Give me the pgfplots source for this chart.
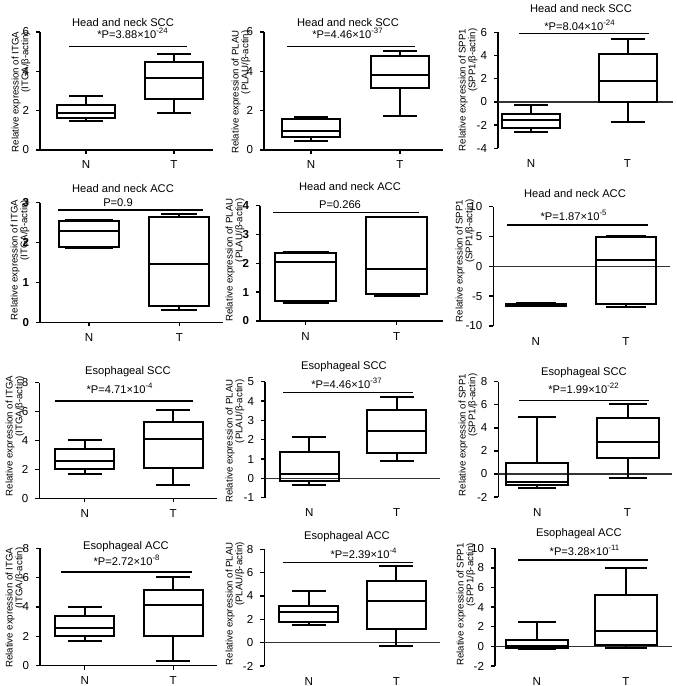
\documentclass[border=0pt]{standalone}
\usepackage{fontspec}
\setmainfont{Liberation Sans}
\usepackage{pgfplots}
\pgfplotsset{compat=1.18}
\usepgfplotslibrary{statistics}

\newcommand\geom[4]{%
 \pgfmathsetmacro\W{(#2-#1)*0.5}%
 \pgfmathsetmacro\H{(#4-#3)*0.5}%
 \pgfmathsetmacro\AX{#1*0.5}%
 \pgfmathsetmacro\AY{-#4*0.5}}

\pgfplotsset{
 gp/.style={scale only axis, clip=false, width=\W bp, height=\H bp,
  at={(\AX bp,\AY bp)}, anchor=south west,
  axis y line=left, axis x line=bottom, axis line style={-, line width=0.7bp},
  tick align=outside, major tick length=2bp, tick style={black, line width=0.7bp},
  xticklabels={N,T}, ticklabel style={font=\fontsize{5.8}{6}\selectfont},
  /pgf/number format/assume math mode=true,
  boxplot/draw direction=y},
 neg/.style={x axis line style={draw=none}, xtick style={draw=none}},
 bold/.style={yticklabel style={font=\bfseries\fontsize{5.8}{6}\selectfont}},
 bx/.style={black, line width=1bp, solid, fill=none, boxplot/draw direction=y},
 pl/.style={black, line width=0.7bp},
 zl/.style={black!80, line width=0.6bp},
}
\newcommand\tfont{\fontsize{5.6}{6.5}\selectfont}
\newcommand\lfont{\fontsize{4.85}{4.9}\selectfont}

\begin{document}
\begin{tikzpicture}[x=0.5bp,y=-0.5bp]
\useasboundingbox (0,0) rectangle (677,686);

% ---------- Row 1 ----------
\geom{40}{213}{32}{150}
\begin{axis}[gp, xmin=40, xmax=213, ymin=0, ymax=6, ytick={0,2,4,6}, xtick={86,174}]
\addplot[bx, boxplot prepared={draw position=86, lower whisker=1.5, lower quartile=1.62, median=1.9, upper quartile=2.28, upper whisker=2.77, box extend=58, whisker extend=34}] coordinates {};
\addplot[bx, boxplot prepared={draw position=174, lower whisker=1.87, lower quartile=2.6, median=3.64, upper quartile=4.47, upper whisker=4.88, box extend=58, whisker extend=34}] coordinates {};
\addplot[pl] coordinates {(69,5.27) (187,5.27)};
\end{axis}

\geom{264}{443}{32}{150}
\begin{axis}[gp, xmin=264, xmax=443, ymin=0, ymax=6, ytick={0,2,4,6}, xtick={311,400}]
\addplot[bx, boxplot prepared={draw position=311, lower whisker=0.46, lower quartile=0.68, median=0.97, upper quartile=1.58, upper whisker=1.70, box extend=58, whisker extend=34}] coordinates {};
\addplot[bx, boxplot prepared={draw position=400, lower whisker=1.75, lower quartile=3.15, median=3.81, upper quartile=4.76, upper whisker=5.03, box extend=58, whisker extend=34}] coordinates {};
\addplot[pl] coordinates {(287,5.27) (415,5.27)};
\end{axis}

\geom{498}{673}{32.3}{148.3}
\begin{axis}[gp, neg, xmin=498, xmax=673, ymin=-4, ymax=6, ytick={-4,-2,0,2,4,6}, xtick={531,627.5}]
\addplot[zl] coordinates {(498,0) (673,0)};
\addplot[bx, boxplot prepared={draw position=531, lower whisker=-2.59, lower quartile=-2.21, median=-1.52, upper quartile=-1.03, upper whisker=-0.26, box extend=58, whisker extend=34}] coordinates {};
\addplot[bx, boxplot prepared={draw position=627.5, lower whisker=-1.7, lower quartile=0.03, median=1.78, upper quartile=4.17, upper whisker=5.46, box extend=58, whisker extend=34}] coordinates {};
\addplot[pl] coordinates {(519,5.89) (649,5.89)};
\end{axis}

% ---------- Row 2 ----------
\geom{40}{223}{202.7}{322.3}
\begin{axis}[gp, bold, xmin=40, xmax=223, ymin=0, ymax=3, ytick={0,1,2,3}, xtick={89,179.3}]
\addplot[bx, boxplot prepared={draw position=89, lower whisker=1.87, lower quartile=1.90, median=2.28, upper quartile=2.55, upper whisker=2.57, box extend=60, whisker extend=48}] coordinates {};
\addplot[bx, boxplot prepared={draw position=179.3, lower whisker=0.30, lower quartile=0.41, median=1.46, upper quartile=2.65, upper whisker=2.72, box extend=60, whisker extend=36}] coordinates {};
\addplot[pl] coordinates {(58,2.82) (203,2.82)};
\end{axis}

\geom{260}{443}{205.7}{321}
\begin{axis}[gp, bold, xmin=260, xmax=443, ymin=0, ymax=4, ytick={0,1,2,3,4}, xtick={305.5,396.7}]
\addplot[bx, boxplot prepared={draw position=305.5, lower whisker=0.61, lower quartile=0.69, median=2.05, upper quartile=2.37, upper whisker=2.40, box extend=61, whisker extend=46}] coordinates {};
\addplot[bx, boxplot prepared={draw position=396.7, lower whisker=0.88, lower quartile=0.95, median=1.79, upper quartile=3.60, upper whisker=3.62, box extend=61, whisker extend=46}] coordinates {};
\addplot[pl] coordinates {(273,3.76) (419,3.76)};
\end{axis}

\geom{493.3}{670}{206.7}{326}
\begin{axis}[gp, neg, xmin=493.3, xmax=670, ymin=-10, ymax=10, ytick={-10,-5,0,5,10}, xtick={535.8,625.8}]
\addplot[zl] coordinates {(493.3,0) (670,0)};
\addplot[bx, boxplot prepared={draw position=535.8, lower whisker=-6.7, lower quartile=-6.6, median=-6.45, upper quartile=-6.3, upper whisker=-6.2, box extend=60, whisker extend=40}] coordinates {};
\addplot[bx, boxplot prepared={draw position=625.8, lower whisker=-6.76, lower quartile=-6.3, median=1.12, upper quartile=4.97, upper whisker=5.08, box extend=60, whisker extend=40}] coordinates {};
\addplot[pl] coordinates {(507,6.93) (648,6.93)};
\end{axis}

% ---------- Row 3 ----------
\geom{39.3}{216.7}{382.7}{498.3}
\begin{axis}[gp, xmin=39.3, xmax=216.7, ymin=0, ymax=8, ytick={0,2,4,6,8}, xtick={84.7,173.2}]
\addplot[bx, boxplot prepared={draw position=84.7, lower whisker=1.68, lower quartile=2.03, median=2.6, upper quartile=3.39, upper whisker=4.03, box extend=59, whisker extend=34}] coordinates {};
\addplot[bx, boxplot prepared={draw position=173.2, lower whisker=0.95, lower quartile=2.07, median=4.1, upper quartile=5.25, upper whisker=6.1, box extend=59, whisker extend=34}] coordinates {};
\addplot[pl] coordinates {(55,6.73) (193,6.73)};
\end{axis}

\geom{265}{440}{381.7}{497.7}
\begin{axis}[gp, neg, xmin=265, xmax=440, ymin=-1, ymax=5, ytick={-1,0,1,2,3,4,5}, xtick={309.2,396.7}]
\addplot[zl] coordinates {(265,0) (440,0)};
\addplot[bx, boxplot prepared={draw position=309.2, lower whisker=-0.36, lower quartile=-0.14, median=0.24, upper quartile=1.36, upper whisker=2.12, box extend=59, whisker extend=34}] coordinates {};
\addplot[bx, boxplot prepared={draw position=396.7, lower whisker=0.9, lower quartile=1.31, median=2.47, upper quartile=3.55, upper whisker=4.19, box extend=59, whisker extend=34}] coordinates {};
\addplot[pl] coordinates {(283,4.45) (413,4.45)};
\end{axis}

\geom{498.3}{671.7}{381.7}{497}
\begin{axis}[gp, neg, xmin=498.3, xmax=671.7, ymin=-2, ymax=8, ytick={-2,0,2,4,6,8}, xtick={537.2,627.5}]
\addplot[zl] coordinates {(498.3,0) (671.7,0)};
\addplot[bx, boxplot prepared={draw position=537.2, lower whisker=-1.18, lower quartile=-0.92, median=-0.66, upper quartile=0.92, upper whisker=4.97, box extend=62, whisker extend=38}] coordinates {};
\addplot[bx, boxplot prepared={draw position=627.5, lower whisker=-0.32, lower quartile=1.39, median=2.8, upper quartile=4.88, upper whisker=6.04, box extend=62, whisker extend=38}] coordinates {};
\addplot[pl] coordinates {(519,6.36) (649,6.36)};
\end{axis}

% ---------- Row 4 ----------
\geom{40}{216.7}{548.3}{665.7}
\begin{axis}[gp, xmin=40, xmax=216.7, ymin=0, ymax=8, ytick={0,2,4,6,8}, xtick={84.7,173.2}]
\addplot[bx, boxplot prepared={draw position=84.7, lower whisker=1.68, lower quartile=2.02, median=2.59, upper quartile=3.39, upper whisker=4.02, box extend=59, whisker extend=34}] coordinates {};
\addplot[bx, boxplot prepared={draw position=173.2, lower whisker=0.34, lower quartile=2.02, median=4.14, upper quartile=5.18, upper whisker=6.07, box extend=59, whisker extend=34}] coordinates {};
\addplot[pl] coordinates {(61,6.39) (192,6.39)};
\end{axis}

\geom{264.3}{440}{549.3}{666}
\begin{axis}[gp, neg, xmin=264.3, xmax=440, ymin=-2, ymax=8, ytick={-2,0,2,4,6,8}, xtick={308.7,396.3}]
\addplot[zl] coordinates {(264.3,0) (440,0)};
\addplot[bx, boxplot prepared={draw position=308.7, lower whisker=1.51, lower quartile=1.8, median=2.6, upper quartile=3.14, upper whisker=4.43, box extend=59, whisker extend=34}] coordinates {};
\addplot[bx, boxplot prepared={draw position=396.3, lower whisker=-0.26, lower quartile=1.14, median=3.57, upper quartile=5.31, upper whisker=6.54, box extend=59, whisker extend=34}] coordinates {};
\addplot[pl] coordinates {(283,6.89) (413,6.89)};
\end{axis}

\geom{495}{671.7}{548.3}{666}
\begin{axis}[gp, neg, xmin=495, xmax=671.7, ymin=-2, ymax=10, ytick={-2,0,2,4,6,8,10}, xtick={536.8,625.8}]
\addplot[zl] coordinates {(495,0) (671.7,0)};
\addplot[bx, boxplot prepared={draw position=536.8, lower whisker=-0.3, lower quartile=-0.14, median=0.07, upper quartile=0.65, upper whisker=2.45, box extend=62, whisker extend=38}] coordinates {};
\addplot[bx, boxplot prepared={draw position=625.8, lower whisker=-0.14, lower quartile=0.1, median=1.6, upper quartile=5.24, upper whisker=8.03, box extend=62, whisker extend=42}] coordinates {};
\addplot[pl] coordinates {(518,8.8) (648,8.8)};
\end{axis}

% ---------- Titles ----------
\begin{scope}[every node/.style={font=\tfont, inner sep=0pt}]
\node at (123,22.7) {Head and neck SCC};
\node at (348,22.7) {Head and neck SCC};
\node at (581,9) {Head and neck SCC};
\node at (123,189) {Head and neck ACC};
\node at (350,186.7) {Head and neck ACC};
\node at (575,194) {Head and neck ACC};
\node at (128,371.7) {Esophageal SCC};
\node at (344,366.7) {Esophageal SCC};
\node at (584,372.3) {Esophageal SCC};
\node at (126,546.7) {Esophageal ACC};
\node at (347,536.7) {Esophageal ACC};
\node at (579,533.3) {Esophageal ACC};
% P values
\node at (133,33) {*P=3.88×10\textsuperscript{-24}};
\node at (348,33) {*P=4.46×10\textsuperscript{-37}};
\node at (580,25) {*P=8.04×10\textsuperscript{-24}};
\node at (118,202.7) {P=0.9};
\node at (340,205) {P=0.266};
\node at (574,215) {*P=1.87×10\textsuperscript{-5}};
\node at (120,388) {*P=4.71×10\textsuperscript{-4}};
\node at (347,383) {*P=4.46×10\textsuperscript{-37}};
\node at (584,388) {*P=1.99×10\textsuperscript{-22}};
\node at (127,560) {*P=2.72×10\textsuperscript{-8}};
\node at (364,553.3) {*P=2.39×10\textsuperscript{-4}};
\node at (585,550) {*P=3.28×10\textsuperscript{-11}};
\end{scope}

% ---------- Y labels ----------
\begin{scope}[every node/.style={font=\lfont, inner sep=0pt, rotate=90, align=right}]
\node at (21,92) {Relative expression of ITGA\\(ITGA/β-actin)};
\node at (241,92) {Relative expression of PLAU\\(PLAU/β-actin)};
\node at (468,90) {Relative expression of SPP1\\(SPP1/β-actin)};
\node at (20,260) {Relative expression of ITGA\\(ITGA/β-actin)};
\node at (235,260) {Relative expression of PLAU\\(PLAU/β-actin)};
\node at (465,261) {Relative expression of SPP1\\(SPP1/β-actin)};
\node at (15,436) {Relative expression of ITGA\\(ITGA/β-actin)};
\node at (235,441) {Relative expression of PLAU\\(PLAU/β-actin)};
\node at (468,435) {Relative expression of SPP1\\(SPP1/β-actin)};
\node at (15,607.7) {Relative expression of ITGA\\(ITGA/β-actin)};
\node at (235,603.7) {Relative expression of PLAU\\(PLAU/β-actin)};
\node at (466,604.5) {Relative expression of SPP1\\(SPP1/β-actin)};
\end{scope}
\end{tikzpicture}
\end{document}
